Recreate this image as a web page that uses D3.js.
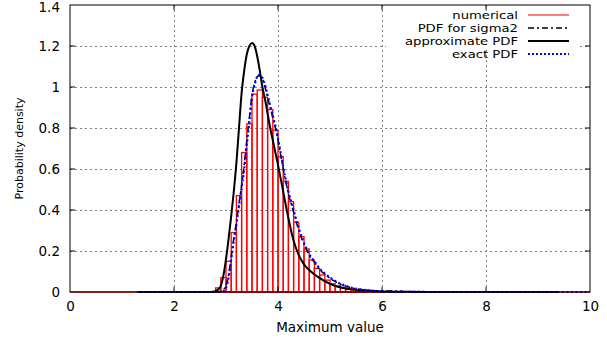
<!DOCTYPE html>
<html>
<head>
<meta charset="utf-8">
<script src="https://cdn.jsdelivr.net/npm/d3@7"></script>
<style>
  html, body { margin: 0; padding: 0; background: #fff; }
  svg text { font-family: "DejaVu Sans", "Liberation Sans", Arial, sans-serif; fill: #000; }
</style>
</head>
<body>
<svg id="chart" width="607" height="343"></svg>
<script>
// tick values
const xTicks = [0, 2, 4, 6, 8, 10];
const yTicks = [0, 0.2, 0.4, 0.6, 0.8, 1, 1.2, 1.4];

// numerical histogram (bin left edges, bin width 0.1)
const binWidth = 0.1;
const histX = [2.8, 2.9, 3.0, 3.1, 3.2, 3.3, 3.4, 3.5, 3.6, 3.7, 3.8, 3.9, 4.0, 4.1, 4.2, 4.3,
  4.4, 4.5, 4.6, 4.7, 4.8, 4.9, 5.0, 5.1, 5.2, 5.3, 5.4, 5.5, 5.6, 5.7, 5.8, 5.9];
const histY = [0.02, 0.07, 0.15, 0.29, 0.47, 0.68, 0.82, 0.965, 0.985, 0.95, 0.89, 0.79, 0.66, 0.54, 0.44, 0.34,
  0.27, 0.21, 0.156, 0.115, 0.083, 0.058, 0.04, 0.03, 0.02, 0.013, 0.009, 0.006, 0.004, 0.003, 0.002, 0.001];
const histRange = [0, 10];

// PDF for sigma2
const sigmaX = [2.8, 2.9, 2.95, 3.0, 3.05, 3.1, 3.15, 3.2, 3.25, 3.3, 3.35, 3.4, 3.45, 3.5, 3.55, 3.6, 3.63,
  3.7, 3.75, 3.8, 3.85, 3.9, 3.95, 4.0, 4.05, 4.1, 4.2, 4.3, 4.4, 4.5, 4.6, 4.7, 4.8, 4.9, 5.0, 5.2, 5.4,
  5.6, 5.8, 6.0, 6.4];
const sigmaY = [0, 0.004, 0.012, 0.03, 0.08, 0.17, 0.26, 0.34, 0.43, 0.52, 0.62, 0.74, 0.85, 0.96, 1.02, 1.05, 1.055,
  1.04, 1.0, 0.95, 0.9, 0.85, 0.8, 0.74, 0.67, 0.6, 0.48, 0.39, 0.3, 0.235, 0.18, 0.145, 0.11, 0.087, 0.067, 0.038, 0.021,
  0.012, 0.007, 0.005, 0.004];

// approximate PDF
const approxX = [1.3, 2.7, 2.8, 2.85, 2.9, 2.95, 3.0, 3.05, 3.1, 3.15, 3.2, 3.25, 3.3, 3.35, 3.4, 3.45, 3.5,
  3.55, 3.6, 3.65, 3.7, 3.75, 3.8, 3.85, 3.9, 4.0, 4.1, 4.2, 4.3, 4.4, 4.5, 4.6, 4.76, 5.0, 5.15, 5.4,
  5.7, 6.0, 6.5, 7.0, 9.4];
const approxY = [0, 0, 0.004, 0.012, 0.03, 0.08, 0.16, 0.26, 0.37, 0.49, 0.63, 0.8, 0.97, 1.08, 1.16, 1.2, 1.215,
  1.2, 1.15, 1.08, 1.0, 0.94, 0.87, 0.8, 0.74, 0.62, 0.49, 0.36, 0.25, 0.18, 0.135, 0.107, 0.075, 0.04, 0.026, 0.014,
  0.007, 0.003, 0.001, 0, 0];

// exact PDF
const exactX = [1.3, 2.9, 2.95, 3.0, 3.05, 3.1, 3.15, 3.2, 3.25, 3.3, 3.35, 3.4, 3.45, 3.5, 3.55, 3.6, 3.65,
  3.7, 3.75, 3.8, 3.85, 3.9, 3.95, 4.0, 4.05, 4.1, 4.2, 4.3, 4.4, 4.5, 4.6, 4.7, 4.8, 4.9, 5.0, 5.2, 5.4,
  5.6, 5.8, 6.0, 6.5, 7.0, 10];
const exactY = [0, 0, 0.004, 0.02, 0.07, 0.16, 0.25, 0.33, 0.42, 0.51, 0.6, 0.72, 0.83, 0.95, 1.01, 1.05, 1.06,
  1.045, 1.01, 0.96, 0.91, 0.86, 0.81, 0.75, 0.68, 0.61, 0.49, 0.4, 0.31, 0.24, 0.185, 0.15, 0.115, 0.09, 0.07, 0.04, 0.022,
  0.012, 0.006, 0.003, 0.001, 0, 0];

const legendLabels = ['numerical', 'PDF for sigma2', 'approximate PDF', 'exact PDF'];

const svg = d3.select('#chart');
const margin = { left: 70, right: 17, top: 5, bottom: 51 };
const W = 607, H = 343;

const x = d3.scaleLinear().domain([0, 10]).range([margin.left, W - margin.right]);
const y = d3.scaleLinear().domain([0, 1.4]).range([H - margin.bottom, margin.top]);

// grid
const grid = svg.append('g').attr('stroke', '#808080').attr('stroke-width', 1)
  .attr('stroke-dasharray', '2,3').attr('shape-rendering', 'crispEdges');
grid.selectAll('.gx').data(xTicks.slice(1, -1)).enter().append('line')
  .attr('x1', d => Math.round(x(d)) + 0.5).attr('x2', d => Math.round(x(d)) + 0.5)
  .attr('y1', y(0)).attr('y2', y(1.4));
grid.selectAll('.gy').data(yTicks.slice(1, -1)).enter().append('line')
  .attr('y1', d => Math.round(y(d)) + 0.5).attr('y2', d => Math.round(y(d)) + 0.5)
  .attr('x1', x(0)).attr('x2', x(10));

// opaque key box
svg.append('rect')
  .attr('x', 386).attr('y', 11).attr('width', 191).attr('height', 36)
  .attr('fill', '#fff');

const plot = svg.append('g');

// numerical histogram
plot.append('line')
  .attr('x1', x(histRange[0])).attr('x2', x(histRange[1]))
  .attr('y1', y(0)).attr('y2', y(0))
  .attr('stroke', '#ff0000').attr('stroke-width', 1.5);
plot.selectAll('.bar').data(histX).enter().append('rect')
  .attr('x', d => x(d))
  .attr('width', x(binWidth) - x(0))
  .attr('y', (d, i) => y(histY[i]))
  .attr('height', (d, i) => y(0) - y(histY[i]))
  .attr('fill', 'none').attr('stroke', '#ff0000').attr('stroke-width', 1.3);

const line = d3.line().x(d => x(d[0])).y(d => y(d[1])).curve(d3.curveMonotoneX);

plot.append('path').datum(d3.zip(sigmaX, sigmaY))
  .attr('d', line).attr('fill', 'none').attr('stroke', '#000')
  .attr('stroke-width', 1.5).attr('stroke-dasharray', '6,3,2,3');

plot.append('path').datum(d3.zip(approxX, approxY))
  .attr('d', line).attr('fill', 'none').attr('stroke', '#000')
  .attr('stroke-width', 2);

plot.append('path').datum(d3.zip(exactX, exactY))
  .attr('d', line).attr('fill', 'none').attr('stroke', '#0000ff')
  .attr('stroke-width', 2.2).attr('stroke-dasharray', '2,2.5');

// border
svg.append('rect')
  .attr('x', x(0)).attr('y', y(1.4))
  .attr('width', x(10) - x(0)).attr('height', y(0) - y(1.4))
  .attr('fill', 'none').attr('stroke', '#000').attr('stroke-width', 1);

// axes
const xAxis = d3.axisBottom(x).tickValues(xTicks).tickSize(0).tickPadding(9).tickFormat(d3.format('d'));
const yAxis = d3.axisLeft(y).tickValues(yTicks).tickSize(0).tickPadding(10).tickFormat(d => d3.format('')(d));

const gx = svg.append('g').attr('transform', `translate(0,${y(0)})`).call(xAxis);
const gy = svg.append('g').attr('transform', `translate(${x(0)},0)`).call(yAxis);
[gx, gy].forEach(g => {
  g.select('.domain').remove();
  g.selectAll('text').style('font-size', '13.5px').style('font-family', null);
});
// keep the top label inside the picture
gy.selectAll('.tick').filter(d => d === 1.4).select('text').attr('dy', '0.45em');

// inward tick marks on all borders
const ticks = svg.append('g').attr('stroke', '#000').attr('stroke-width', 1);
xTicks.slice(1, -1).forEach(d => {
  ticks.append('line').attr('x1', x(d)).attr('x2', x(d)).attr('y1', y(0)).attr('y2', y(0) - 5);
  ticks.append('line').attr('x1', x(d)).attr('x2', x(d)).attr('y1', y(1.4)).attr('y2', y(1.4) + 5);
});
yTicks.slice(1, -1).forEach(d => {
  ticks.append('line').attr('x1', x(0)).attr('x2', x(0) + 5).attr('y1', y(d)).attr('y2', y(d));
  ticks.append('line').attr('x1', x(10)).attr('x2', x(10) - 5).attr('y1', y(d)).attr('y2', y(d));
});

// axis titles
svg.append('text').attr('x', (x(0) + x(10)) / 2).attr('y', 332)
  .attr('text-anchor', 'middle').style('font-size', '13.5px').text('Maximum value');
svg.append('text').attr('transform', `translate(23,${(y(0) + y(1.4)) / 2}) rotate(-90)`)
  .attr('text-anchor', 'middle').style('font-size', '11px').text('Probability density');

// legend: slightly wide glyphs, tight rows
const legend = svg.append('g');
const rowY = [15, 28, 41, 54];
legendLabels.forEach((lab, i) => {
  legend.append('g').attr('transform', `translate(518,${rowY[i]}) scale(1.2,1)`)
    .append('text').attr('dy', '0.35em')
    .attr('text-anchor', 'end').style('font-size', '11px').text(lab);
});
const sample = (i) => legend.append('line').attr('x1', 528).attr('x2', 569)
  .attr('y1', rowY[i]).attr('y2', rowY[i]).attr('fill', 'none');
sample(0).attr('stroke', '#ff0000').attr('stroke-width', 1);
sample(1).attr('stroke', '#000').attr('stroke-width', 1.5).attr('stroke-dasharray', '6,3,2,3');
sample(2).attr('stroke', '#000').attr('stroke-width', 2);
sample(3).attr('stroke', '#0000ff').attr('stroke-width', 2).attr('stroke-dasharray', '2,2');
</script>
</body>
</html>
